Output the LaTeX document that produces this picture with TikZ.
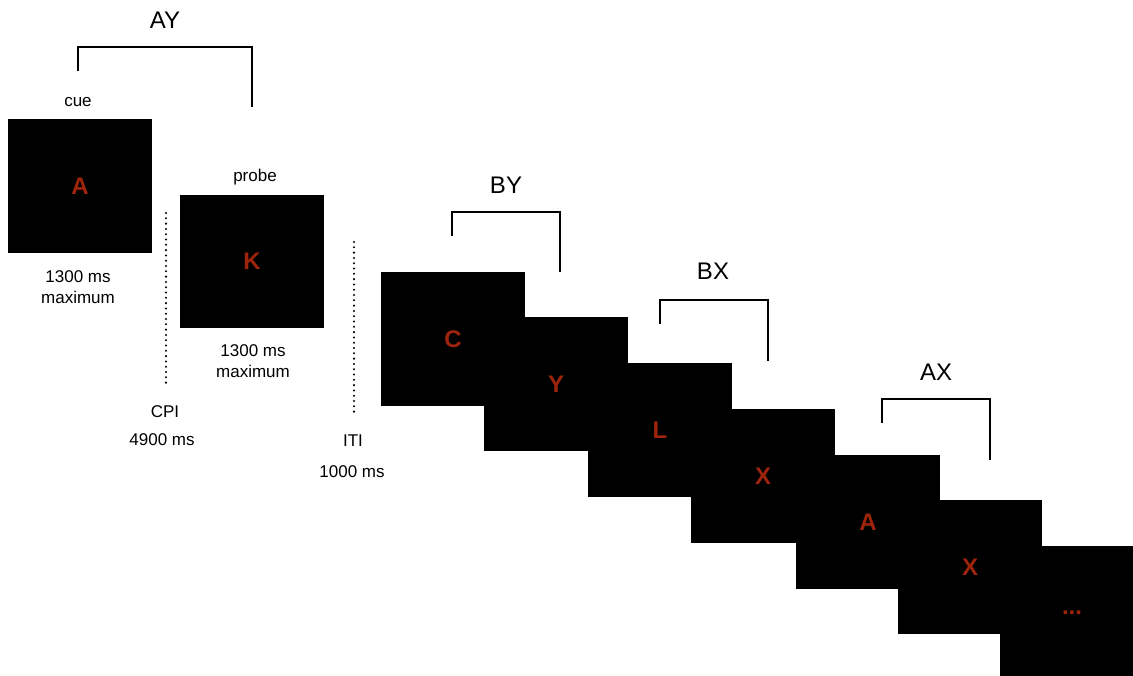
\documentclass[tikz,border=0pt]{standalone}
\usepackage{fontspec}
\setmainfont{Liberation Sans}
\usepackage{tikz}
\usetikzlibrary{positioning}
\definecolor{letterred}{RGB}{158,36,12}

\tikzset{
    stim/.style={shape=rectangle,fill=black,minimum width=144pt,minimum height=134pt,inner sep=0pt,
        text=letterred,font=\fontsize{24}{28}\selectfont\bfseries},
    caption/.style={align=center,font=\fontsize{17}{21}\selectfont},
    pairlbl/.style={font=\fontsize{24}{28}\selectfont},
    bracket/.style={line width=2pt},
    dotline/.style={line width=2.3pt,line cap=round,dash pattern=on 0pt off 5.3pt}
}

\begin{document}
\begin{tikzpicture}[x=1pt,y=-1pt]
        \useasboundingbox (0,0) rectangle (1133,675);
        \clip (0,0) rectangle (1133,675);

        % cue and probe of the first trial
        \node (cue) at (80,186) [stim] {A};
        \node (probe) at (252,261.5) [stim,minimum height=133pt] {K};

        \node (cuelbl) at (78,102) [caption] {cue};
        \node (cuetime) at (78,287) [caption] {1300 ms\\maximum};
        \node (probelbl) at (255,177) [caption] {probe};
        \node (probetime) at (253,361) [caption] {1300 ms\\maximum};

        \draw[dotline] (166,213) -- (166,386);
        \node (cpi) at (165,412) [caption] {CPI};
        \node (cpitime) at (162,440) [caption] {4900 ms};

        \draw[dotline] (354,242) -- (354,416);
        \node (iti) at (353,441) [caption] {ITI};
        \node (ititime) at (352,472) [caption] {1000 ms};

        % following stimuli
        \node (s1) at (453,339) [stim] {C};
        \node (s2) at (556,384) [stim] {Y};
        \node (s3) at (660,430) [stim] {L};
        \node (s4) at (763,476) [stim] {X};
        \node (s5) at (868,522) [stim] {A};
        \node (s6) at (970,567) [stim] {X};
        \node (s7) at (1072,613) [stim] {...};

        % trial brackets
        \draw[bracket] (78,71) |- (252,47) -- (252,107);
        \node (ay) at (165,20) [pairlbl] {AY};
        \draw[bracket] (452,236) |- (560,212) -- (560,272);
        \node (by) at (506,185) [pairlbl] {BY};
        \draw[bracket] (660,324) |- (768,300) -- (768,361);
        \node (bx) at (713,271) [pairlbl] {BX};
        \draw[bracket] (882,423) |- (990,399) -- (990,460);
        \node (ax) at (936,372) [pairlbl] {AX};
    \end{tikzpicture}
\end{document}
